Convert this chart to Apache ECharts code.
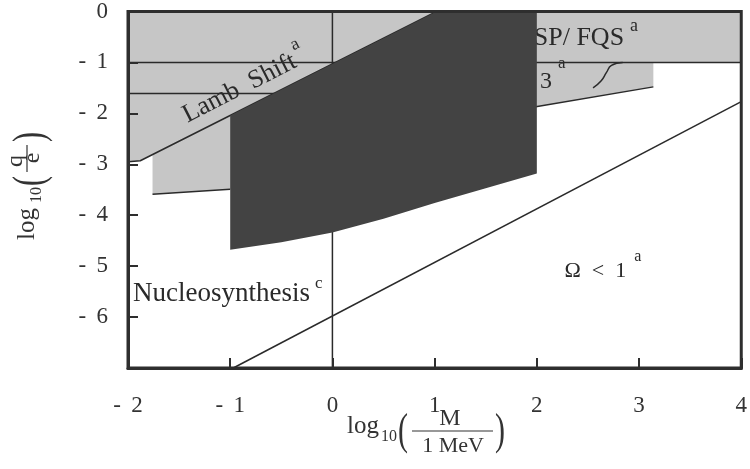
<!DOCTYPE html>
<html>
<head>
<meta charset="utf-8">
<script src="https://cdn.jsdelivr.net/npm/echarts@6/dist/echarts.min.js"></script>
<style>
  html, body { margin: 0; padding: 0; background: #ffffff; }
  #chart { width: 750px; height: 469px; }
</style>
</head>
<body>
<div id="chart"></div>
<script>
// ---- axis ranges (log10 M/MeV across, log10 q/e up) ----
const xRange = [-2, 4];
const yRange = [-7, 0];

// ---- excluded regions, as boundary vertices [log10 M, log10 q] ----
// light band: SP/FQS, the "3" experiment, Lamb shift and the wedge below it
const lightRegion = [
  [-2, 0], [4, 0], [4, -1], [3.14, -1], [3.14, -1.48], [1.99, -1.87],
  [-1, -3.49], [-1.76, -3.59], [-1.76, -2.81], [-1.88, -2.93], [-2, -2.95]
];
// dark band: upper edge follows the Lamb shift bound
const darkRegion = [
  [-1, -2.04], [1.02, 0], [2, 0], [2, -3.18], [1.5, -3.47], [1, -3.76],
  [0.5, -4.07], [0, -4.34], [-0.5, -4.53], [-1, -4.68]
];

// ---- boundary curves ----
const lambShift = [[-2, -2.95], [-1.88, -2.93], [1.02, 0]];
const chargeTenth = [[-2, -1], [4, -1]];
const stepBound = [[-2, -1.61], [-0.55, -1.61]];
const electronMass = [[0, 0], [0, -7]];
const wedgeFloor = [[-1.76, -3.59], [-1, -3.49]];
const rightFloor = [[1.99, -1.87], [3.14, -1.48]];
const kneeCurve = [[2.84, -1.0], [2.73, -1.06], [2.68, -1.2], [2.63, -1.36], [2.55, -1.5]];
const omegaBound = [[-0.97, -7], [4, -1.77]];

const SERIF = '"Liberation Serif", "Times New Roman", serif';
const INK = '#2a2a2a';
const FRAME = '#2e2e2e';
const LIGHT = '#c6c6c6';
const DARK = '#434343';

const chart = echarts.init(document.getElementById('chart'), null, { renderer: 'canvas' });

function region(points, color, z) {
  return {
    type: 'custom', coordinateSystem: 'cartesian2d', silent: true, z: z,
    data: [[0, 0]], clip: true,
    renderItem: function (params, api) {
      return {
        type: 'polygon',
        shape: { points: points.map(function (p) { return api.coord(p); }) },
        style: { fill: color }
      };
    }
  };
}

function curve(points, z, width, smooth) {
  return {
    type: 'line', data: points, symbol: 'none', silent: true, z: z,
    smooth: !!smooth, clip: true,
    lineStyle: { color: INK, width: width || 1.5 }
  };
}

function tickText(v) {
  return v < 0 ? '- \u2009' + (-v) : String(v);
}

const axisCommon = {
  type: 'value', interval: 1, z: 10,
  axisLine: { show: true, onZero: false, lineStyle: { color: FRAME, width: 3 } },
  axisTick: { show: true, inside: true, length: 10, lineStyle: { color: FRAME, width: 2 } },
  splitLine: { show: false },
  axisLabel: { fontFamily: SERIF, fontSize: 23, color: '#333' }
};

chart.setOption({
  animation: false,
  grid: { left: 128, right: 7, top: 9, bottom: 101, show: true, z: 10,
          borderColor: FRAME, borderWidth: 3, backgroundColor: 'transparent' },
  xAxis: Object.assign({}, axisCommon, {
    min: xRange[0], max: xRange[1],
    axisLabel: Object.assign({}, axisCommon.axisLabel, { margin: 26, formatter: tickText })
  }),
  yAxis: Object.assign({}, axisCommon, {
    min: yRange[0], max: yRange[1],
    axisLabel: Object.assign({}, axisCommon.axisLabel, {
      margin: 20, padding: [7, 0, 0, 0],
      formatter: function (v) { return v === yRange[0] ? '' : tickText(v); }
    })
  }),
  series: [
    region(lightRegion, LIGHT, 2),
    curve(chargeTenth, 3),
    curve(electronMass, 3),
    curve(stepBound, 3),
    curve(lambShift, 3),
    curve(wedgeFloor, 3),
    curve(rightFloor, 3),
    curve(kneeCurve, 3, 1.5, true),
    region(darkRegion, DARK, 4),
    curve(omegaBound, 5)
  ]
});

// ---- region labels, anchored in data coordinates ----
function note(at, rich, body, sup, align, rot, z) {
  const p = chart.convertToPixel({ gridIndex: 0 }, at);
  return {
    type: 'text', x: p[0], y: p[1], rotation: (rot || 0) * Math.PI / 180, z: z || 20,
    style: {
      text: '{m|' + body + '}{s|' + sup + '}',
      rich: rich, textAlign: align, textVerticalAlign: 'middle'
    }
  };
}
function richFor(size, supSize, raise, gap) {
  return {
    m: { fontFamily: SERIF, fontSize: size, fill: '#2a2a2a', lineHeight: 2 * raise + supSize },
    s: { fontFamily: SERIF, fontSize: supSize, fill: '#2a2a2a', verticalAlign: 'top', padding: [0, 0, 0, gap] }
  };
}

// ---- stacked-fraction axis titles ----
function titleParts(parts) {
  return parts.map(function (q) {
    if (q.rule) {
      return { type: 'line', shape: { x1: q.u1, y1: q.v, x2: q.u2, y2: q.v },
               style: { stroke: '#333', lineWidth: 1.2 } };
    }
    return {
      type: 'text', x: q.u, y: q.v - 0.32 * q.size, scaleY: q.sy || 1,
      style: { text: q.t, fontFamily: SERIF, fontSize: q.size, fill: '#333',
               textAlign: q.align || 'left', textVerticalAlign: 'middle' }
    };
  });
}

const xTitle = {
  type: 'group', x: 347, y: 434, z: 20,
  children: titleParts([
    { t: 'log', u: 0, v: 0, size: 25 },
    { t: '10', u: 34, v: 8, size: 16 },
    { t: '(', u: 51, v: 8, size: 30, sy: 1.5 },
    { t: 'M', u: 103, v: -8, size: 24, align: 'center' },
    { rule: true, u1: 65, u2: 146, v: -3 },
    { t: '1 MeV', u: 106, v: 19, size: 22, align: 'center' },
    { t: ')', u: 148, v: 8, size: 30, sy: 1.5 }
  ])
};

const yTitle = {
  type: 'group', x: 35, y: 240, rotation: Math.PI / 2, z: 20,
  children: titleParts([
    { t: 'log', u: 0, v: 0, size: 25 },
    { t: '10', u: 37, v: 7, size: 16 },
    { t: '(', u: 54, v: 6, size: 30, sy: 1.5 },
    { t: 'q', u: 79, v: -12, size: 24, align: 'center' },
    { rule: true, u1: 68, u2: 95, v: -8 },
    { t: 'e', u: 82, v: 5, size: 24, align: 'center' },
    { t: ')', u: 98, v: 6, size: 30, sy: 1.5 }
  ])
};

chart.setOption({
  graphic: [
    xTitle,
    yTitle,
    note([-0.86, -1.46], richFor(26, 18, 14, 3), 'Lamb  Shift', 'a', 'center', 27),
    note([1.97, -0.53], richFor(26, 18, 12, 6), 'SP/ FQS', 'a', 'left', 0, 3),
    note([2.03, -1.38], richFor(24, 17, 18, 6), '3', 'a', 'left', 0, 3),
    note([-1.95, -5.54], richFor(27, 17, 10, 5), 'Nucleosynthesis', 'c', 'left'),
    note([2.27, -5.1], richFor(22, 16, 14, 8), '\u03a9  <  1', 'a', 'left')
  ]
});
</script>
</body>
</html>
